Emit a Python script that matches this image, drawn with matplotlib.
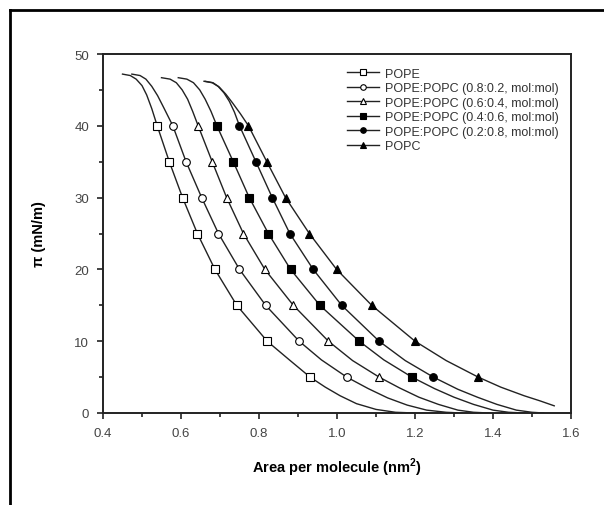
import matplotlib
matplotlib.use("Agg")
import matplotlib.pyplot as plt
from matplotlib.lines import Line2D
from matplotlib.ticker import MultipleLocator, FormatStrFormatter

plt.rcParams['font.family'] = ['Liberation Sans', 'DejaVu Sans']

labels = ["POPE",
          "POPE:POPC (0.8:0.2, mol:mol)",
          "POPE:POPC (0.6:0.4, mol:mol)",
          "POPE:POPC (0.4:0.6, mol:mol)",
          "POPE:POPC (0.2:0.8, mol:mol)",
          "POPC"]

# marker points (surface pressure levels and areas)
pi_marks = [40, 35, 30, 25, 20, 15, 10, 5]
area_pope = [0.539, 0.570, 0.604, 0.642, 0.687, 0.743, 0.821, 0.931]
area_82 = [0.579, 0.613, 0.653, 0.696, 0.750, 0.817, 0.903, 1.025]
area_64 = [0.644, 0.680, 0.717, 0.760, 0.815, 0.888, 0.978, 1.108]
area_46 = [0.692, 0.734, 0.775, 0.824, 0.881, 0.956, 1.057, 1.192]
area_28 = [0.750, 0.792, 0.834, 0.879, 0.939, 1.012, 1.108, 1.247]
area_popc = [0.773, 0.820, 0.868, 0.929, 0.999, 1.089, 1.200, 1.362]

# isotherm curves (area, pressure)
curve_pope_a = [0.450, 0.470, 0.485, 0.500, 0.512, 0.525, 0.539, 0.570, 0.604, 0.642, 0.687, 0.743, 0.821, 0.880, 0.931, 0.970, 1.008, 1.050, 1.100, 1.150, 1.200]
curve_pope_p = [47.2, 47.0, 46.5, 45.6, 44.3, 42.4, 40.0, 35.0, 30.0, 25.0, 20.0, 15.0, 10.0, 7.3, 5.0, 3.6, 2.4, 1.3, 0.5, 0.1, 0.0]
curve_82_a = [0.474, 0.495, 0.510, 0.525, 0.540, 0.556, 0.579, 0.613, 0.653, 0.696, 0.750, 0.817, 0.903, 0.960, 1.025, 1.080, 1.130, 1.180, 1.230, 1.280, 1.320]
curve_82_p = [47.2, 47.0, 46.5, 45.5, 44.2, 42.5, 40.0, 35.0, 30.0, 25.0, 20.0, 15.0, 10.0, 7.4, 5.0, 3.4, 2.1, 1.1, 0.4, 0.1, 0.0]
curve_64_a = [0.550, 0.572, 0.588, 0.603, 0.617, 0.630, 0.644, 0.680, 0.717, 0.760, 0.815, 0.888, 0.978, 1.040, 1.108, 1.160, 1.210, 1.260, 1.310, 1.350, 1.390]
curve_64_p = [46.7, 46.5, 46.0, 45.0, 43.7, 42.0, 40.0, 35.0, 30.0, 25.0, 20.0, 15.0, 10.0, 7.3, 5.0, 3.5, 2.2, 1.2, 0.4, 0.1, 0.0]
curve_46_a = [0.593, 0.615, 0.632, 0.648, 0.662, 0.677, 0.692, 0.734, 0.775, 0.824, 0.881, 0.956, 1.057, 1.120, 1.192, 1.250, 1.300, 1.350, 1.400, 1.440, 1.480]
curve_46_p = [46.7, 46.5, 46.0, 45.0, 43.7, 42.0, 40.0, 35.0, 30.0, 25.0, 20.0, 15.0, 10.0, 7.4, 5.0, 3.4, 2.2, 1.2, 0.4, 0.1, 0.0]
curve_28_a = [0.659, 0.680, 0.695, 0.710, 0.724, 0.737, 0.750, 0.792, 0.834, 0.879, 0.939, 1.012, 1.108, 1.175, 1.247, 1.310, 1.360, 1.410, 1.460, 1.500, 1.530]
curve_28_p = [46.2, 46.0, 45.5, 44.6, 43.4, 41.9, 40.0, 35.0, 30.0, 25.0, 20.0, 15.0, 10.0, 7.3, 5.0, 3.3, 2.2, 1.2, 0.4, 0.1, 0.0]
curve_popc_a = [0.662, 0.682, 0.698, 0.715, 0.732, 0.752, 0.773, 0.820, 0.868, 0.929, 0.999, 1.089, 1.200, 1.280, 1.362, 1.420, 1.480, 1.520, 1.557]
curve_popc_p = [46.2, 46.0, 45.4, 44.4, 43.2, 41.7, 40.0, 35.0, 30.0, 25.0, 20.0, 15.0, 10.0, 7.3, 5.0, 3.6, 2.4, 1.7, 1.0]

mark_areas = [area_pope, area_82, area_64, area_46, area_28, area_popc]
curves = [(curve_pope_a, curve_pope_p), (curve_82_a, curve_82_p), (curve_64_a, curve_64_p),
          (curve_46_a, curve_46_p), (curve_28_a, curve_28_p), (curve_popc_a, curve_popc_p)]
markers = ['s', 'o', '^', 's', 'o', '^']
fills = ['white', 'white', 'white', 'black', 'black', 'black']

fig = plt.figure(figsize=(6.04, 5.06), dpi=100)
ax = fig.add_axes([103/604, 1-414/506, (571-103)/604, (414-55)/506])

for (ca, cp) in curves:
    ax.plot(ca, cp, color='#222222', lw=1.0, zorder=2)

for areas, m, fc in zip(mark_areas, markers, fills):
    ms = 6.0 if m == '^' else 5.5
    ax.plot(areas, pi_marks, linestyle='none', marker=m, ms=ms, mfc=fc, mec='black', mew=0.8, zorder=3)

handles = []
for lab, m, fc in zip(labels, markers, fills):
    handles.append(Line2D([0], [0], color='#222222', lw=1.0, marker=m, ms=4, mfc=fc, mec='black', mew=0.8, label=lab))
leg = ax.legend(handles=handles, loc='upper left', bbox_to_anchor=(0.522, 0.962), frameon=False,
                fontsize=9, handlelength=2.5, handletextpad=0.5, labelspacing=0.2, borderaxespad=0,
                borderpad=0)
for t in leg.get_texts():
    t.set_color('#333333')

ax.set_xlim(0.4, 1.6)
ax.set_ylim(0, 50)
ax.xaxis.set_major_locator(MultipleLocator(0.2))
ax.xaxis.set_minor_locator(MultipleLocator(0.1))
ax.yaxis.set_major_locator(MultipleLocator(10))
ax.yaxis.set_minor_locator(MultipleLocator(5))
ax.xaxis.set_major_formatter(FormatStrFormatter('%.1f'))
ax.tick_params(which='both', direction='out', top=False, right=False, width=1.2, colors='#222222',
               labelcolor='#444444', labelsize=9.5)
ax.tick_params(which='major', length=4, pad=6)
ax.tick_params(which='minor', length=3)
for s in ax.spines.values():
    s.set_linewidth(1.4)
    s.set_color('#222222')

ax.set_xlabel('Area per molecule (nm$^\\mathregular{2}$)', fontsize=10.5, fontweight='bold', labelpad=12)
ax.set_ylabel('π (mN/m)', fontsize=10.5, fontweight='bold', labelpad=20)

# outer frame
fig.add_artist(Line2D([10/604, 1.0], [1-11/506, 1-11/506], transform=fig.transFigure, color='black', lw=2))
fig.add_artist(Line2D([10/604, 10/604], [0, 1-11/506], transform=fig.transFigure, color='black', lw=2))

fig.savefig('out.png', dpi=100)
